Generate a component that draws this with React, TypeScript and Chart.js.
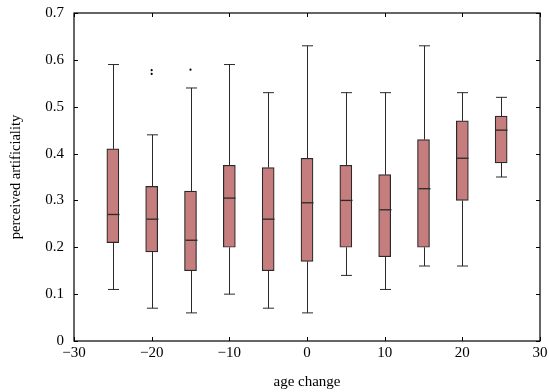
import React, { useEffect, useRef } from "react";
import { Chart, registerables } from "chart.js";

Chart.register(...registerables);

const ageChanges = [-25, -20, -15, -10, -5, 0, 5, 10, 15, 20, 25];
const whiskerLow = [0.11, 0.07, 0.06, 0.10, 0.07, 0.06, 0.14, 0.11, 0.16, 0.16, 0.35];
const quartile1 = [0.21, 0.19, 0.15, 0.20, 0.15, 0.17, 0.20, 0.18, 0.20, 0.30, 0.38];
const medians = [0.27, 0.26, 0.215, 0.305, 0.26, 0.295, 0.30, 0.28, 0.325, 0.39, 0.45];
const quartile3 = [0.41, 0.33, 0.32, 0.375, 0.37, 0.39, 0.375, 0.355, 0.43, 0.47, 0.48];
const whiskerHigh = [0.59, 0.44, 0.54, 0.59, 0.53, 0.63, 0.53, 0.53, 0.63, 0.53, 0.52];
const outlierX = [-20, -20, -15];
const outlierY = [0.578, 0.570, 0.579];
const xTicks = [-30, -20, -10, 0, 10, 20, 30];
const yTicks = [0, 0.1, 0.2, 0.3, 0.4, 0.5, 0.6, 0.7];

const FONT = "'Liberation Serif', 'DejaVu Serif', serif";
const BOX_FILL = "#c67d7d";
const LINE = "#2a2a2a";

const boxExtras = {
  id: "boxExtras",
  afterDatasetsDraw(chart: any) {
    const { ctx, scales, chartArea } = chart;
    const xs = scales.x;
    const ys = scales.y;
    ctx.save();
    ctx.strokeStyle = LINE;
    ctx.lineWidth = 1;
    const half = 5.5;
    for (let i = 0; i < ageChanges.length; i++) {
      const px = Math.round(xs.getPixelForValue(ageChanges[i])) + 0.5;
      const yLo = ys.getPixelForValue(whiskerLow[i]);
      const yQ1 = ys.getPixelForValue(quartile1[i]);
      const yMed = ys.getPixelForValue(medians[i]);
      const yQ3 = ys.getPixelForValue(quartile3[i]);
      const yHi = ys.getPixelForValue(whiskerHigh[i]);
      ctx.beginPath();
      ctx.moveTo(px, yQ3);
      ctx.lineTo(px, yHi);
      ctx.moveTo(px - half, yHi);
      ctx.lineTo(px + half, yHi);
      ctx.moveTo(px, yQ1);
      ctx.lineTo(px, yLo);
      ctx.moveTo(px - half, yLo);
      ctx.lineTo(px + half, yLo);
      ctx.stroke();
      ctx.beginPath();
      ctx.lineWidth = 1.3;
      ctx.moveTo(px - 6, yMed);
      ctx.lineTo(px + 6, yMed);
      ctx.stroke();
      ctx.lineWidth = 1;
    }
    ctx.strokeStyle = "#000";
    ctx.lineWidth = 1.2;
    ctx.strokeRect(chartArea.left, chartArea.top, chartArea.right - chartArea.left, chartArea.bottom - chartArea.top);
    ctx.lineWidth = 1;
    const tl = 4;
    ctx.beginPath();
    for (const t of xTicks) {
      const p = Math.round(xs.getPixelForValue(t)) + 0.5;
      ctx.moveTo(p, chartArea.bottom);
      ctx.lineTo(p, chartArea.bottom - tl);
      ctx.moveTo(p, chartArea.top);
      ctx.lineTo(p, chartArea.top + tl);
    }
    for (const t of yTicks) {
      const p = Math.round(ys.getPixelForValue(t)) + 0.5;
      ctx.moveTo(chartArea.left, p);
      ctx.lineTo(chartArea.left + tl, p);
      ctx.moveTo(chartArea.right, p);
      ctx.lineTo(chartArea.right - tl, p);
    }
    ctx.stroke();
    ctx.restore();
  },
};

export default function App() {
  const ref = useRef<HTMLCanvasElement | null>(null);
  useEffect(() => {
    if (!ref.current) return;
    const chart = new Chart(ref.current, {
      type: "bar",
      data: {
        datasets: [
          {
            type: "bar",
            data: ageChanges.map((x, i) => ({ x, y: [quartile1[i], quartile3[i]] })) as any,
            backgroundColor: BOX_FILL,
            borderColor: LINE,
            borderWidth: 1.2,
            borderSkipped: false,
            barThickness: 12,
          } as any,
          {
            type: "scatter",
            data: outlierX.map((x, i) => ({ x, y: outlierY[i] })),
            backgroundColor: "#000",
            borderColor: "#000",
            pointRadius: 1.1,
            borderWidth: 0,
          } as any,
        ],
      },
      options: {
        animation: false,
        responsive: false,
        layout: { padding: { top: 13, right: 9, left: 0, bottom: 0 } },
        plugins: { legend: { display: false }, tooltip: { enabled: false } },
        scales: {
          x: {
            type: "linear",
            min: -30,
            max: 30,
            offset: false,
            grid: { display: false, drawTicks: false },
            border: { display: false },
            afterBuildTicks: (s: any) => {
              s.ticks = xTicks.map((v) => ({ value: v }));
            },
            afterFit: (s: any) => {
              s.height = 51;
              s.paddingLeft = 0;
              s.paddingRight = 0;
            },
            ticks: {
              padding: 3,
              color: "#000",
              font: { family: FONT, size: 15 },
              maxRotation: 0,
              callback: (v: any) => String(v).replace("-", "\u2212"),
            },
            title: {
              display: true,
              text: "age change",
              color: "#000",
              font: { family: FONT, size: 15 },
              padding: { top: 0, bottom: 1 },
            },
          },
          y: {
            type: "linear",
            min: 0,
            max: 0.7,
            grid: { display: false, drawTicks: false },
            border: { display: false },
            afterBuildTicks: (s: any) => {
              s.ticks = yTicks.map((v) => ({ value: v }));
            },
            afterFit: (s: any) => {
              s.width = 74;
              s.paddingTop = 0;
              s.paddingBottom = 0;
            },
            ticks: {
              padding: 10,
              color: "#000",
              font: { family: FONT, size: 15 },
              callback: (v: any) => (Number(v) === 0 ? "0" : Number(v).toFixed(1)),
            },
            title: {
              display: true,
              text: "perceived artificiality",
              color: "#000",
              font: { family: FONT, size: 14.5 },
              padding: { top: 7, bottom: 0 },
            },
          },
        },
      },
      plugins: [boxExtras],
    });
    return () => chart.destroy();
  }, []);
  return (
    <div style={{ position: "absolute", left: 0, top: 0, width: 549, height: 392, background: "#fff" }}>
      <canvas ref={ref} width={549} height={392} style={{ display: "block" }} />
    </div>
  );
}
